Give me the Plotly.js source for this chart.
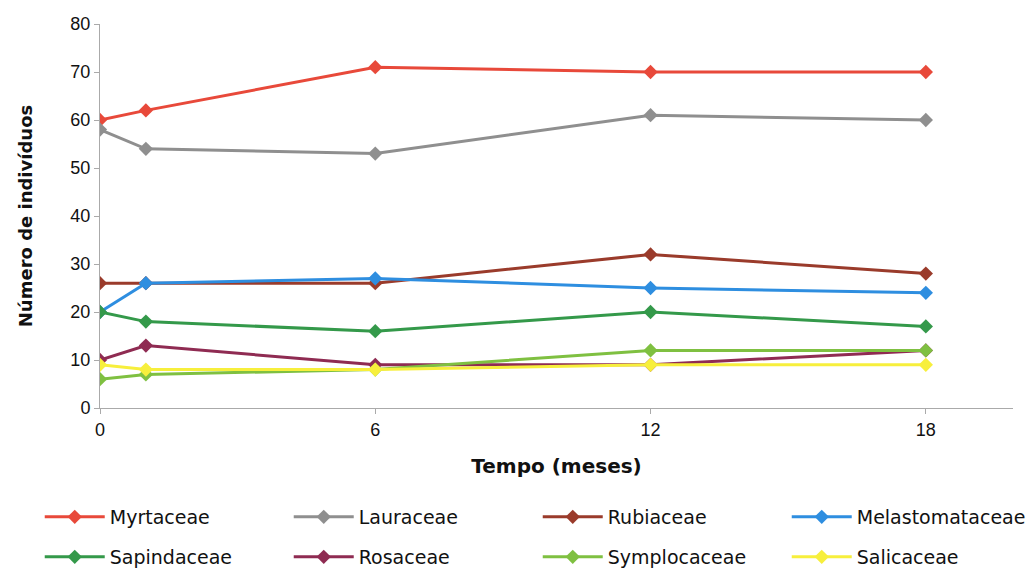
<!DOCTYPE html>
<html>
<head>
<meta charset="utf-8">
<script src="https://cdn.plot.ly/plotly-3.0.1.min.js"></script>
<style>body{margin:0;background:#fff}#chart{width:1031px;height:568px}</style>
</head>
<body>
<div id="chart"></div>
<script>
const months = [0, 1, 6, 12, 18];
const seriesNames = ["Myrtaceae","Lauraceae","Rubiaceae","Melastomataceae","Sapindaceae","Rosaceae","Symplocaceae","Salicaceae"];
const myrtaceae = [60, 62, 71, 70, 70];
const lauraceae = [58, 54, 53, 61, 60];
const rubiaceae = [26, 26, 26, 32, 28];
const melastomataceae = [20, 26, 27, 25, 24];
const sapindaceae = [20, 18, 16, 20, 17];
const rosaceae = [10, 13, 9, 9, 12];
const symplocaceae = [6, 7, 8, 12, 12];
const salicaceae = [9, 8, 8, 9, 9];
const xTicks = [0, 6, 12, 18];
const yTicks = [0, 10, 20, 30, 40, 50, 60, 70, 80];

const values = [myrtaceae, lauraceae, rubiaceae, melastomataceae, sapindaceae, rosaceae, symplocaceae, salicaceae];
const colors = ["#e8493a","#8f8f8f","#9a3b2b","#2e8ee0","#34994a","#8f2b52","#7fc041","#f7ef3c"];

const traces = seriesNames.map((n, i) => ({
  x: months, y: values[i], name: n, type: "scatter", mode: "lines+markers",
  legend: i < 4 ? "legend" : "legend2",
  line: {color: colors[i], width: 3},
  marker: {symbol: "diamond", size: 11, color: colors[i]}
}));

const legendBase = {
  orientation: "h", xref: "paper", yref: "paper", x: -0.066, xanchor: "left", yanchor: "middle",
  entrywidth: 174, entrywidthmode: "pixels",
  font: {size: 19, family: "DejaVu Sans, sans-serif", color: "#111"},
  itemwidth: 60, bgcolor: "rgba(0,0,0,0)"
};

const layout = {
  width: 1031, height: 568,
  margin: {l: 100, r: 18, t: 24, b: 160, autoexpand: false},
  paper_bgcolor: "#fff", plot_bgcolor: "#fff",
  font: {family: "Liberation Sans, Arial, sans-serif", size: 16, color: "#111"},
  showlegend: true,
  xaxis: {
    range: [0, 19.9], tickvals: xTicks, ticktext: xTicks.map(String),
    showgrid: false, zeroline: false, showline: true, linecolor: "#aaa", linewidth: 1,
    ticks: "outside", ticklen: 5, tickcolor: "#aaa",
    tickfont: {size: 18},
    title: {text: "<b>Tempo (meses)</b>", font: {size: 20, family: "DejaVu Sans, sans-serif"}, standoff: 20}
  },
  yaxis: {
    range: [0, 80], tickvals: yTicks,
    showgrid: false, zeroline: false, showline: true, linecolor: "#aaa", linewidth: 1,
    ticks: "outside", ticklen: 5, tickcolor: "#aaa",
    tickfont: {size: 18},
    title: {text: "<b>Número de indivíduos</b>", font: {size: 18, family: "DejaVu Sans, sans-serif"}, standoff: 33}
  },
  legend: Object.assign({}, legendBase, {y: (408 - 517) / 384}),
  legend2: Object.assign({}, legendBase, {y: (408 - 557) / 384})
};
Plotly.newPlot("chart", traces, layout, {displayModeBar: false, staticPlot: true});
</script>
</body>
</html>
